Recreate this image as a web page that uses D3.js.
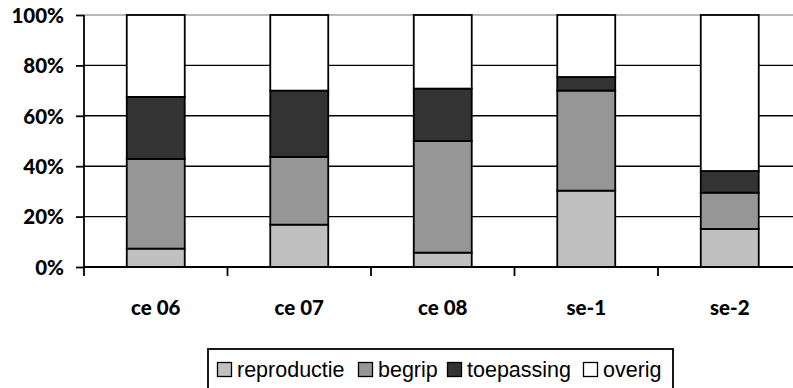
<!DOCTYPE html>
<html>
<head>
<meta charset="utf-8">
<script src="https://cdn.jsdelivr.net/npm/d3@7"></script>
<style>
html,body{margin:0;padding:0;background:#fff;overflow:hidden;}
svg{display:block;}
</style>
</head>
<body>
<svg id="chart" width="793" height="388"></svg>
<script>
const categories = ["ce 06", "ce 07", "ce 08", "se-1", "se-2"];
const seriesNames = ["reproductie", "begrip", "toepassing", "overig"];
const reproductie = [7.3, 16.8, 5.7, 30.3, 15.1];
const begrip = [35.6, 26.9, 44.3, 39.7, 14.4];
const toepassing = [24.6, 26.3, 20.8, 5.4, 8.6];
const overig = [32.5, 30.0, 29.2, 24.6, 61.9];
const yTicks = [0, 20, 40, 60, 80, 100];
const colors = ["#c0c0c0", "#969696", "#333333", "#ffffff"];

const svg = d3.select("#chart");
const x = d3.scaleBand().domain(categories).range([84, 801.5]).padding(0);
const y = d3.scaleLinear().domain([0, 100]).range([267, 15]);
const barW = x.bandwidth() * 0.404;

// gridlines
svg.append("g").selectAll("line").data(yTicks.filter(t => t > 0)).join("line")
  .attr("x1", 84).attr("x2", 793)
  .attr("y1", d => y(d)).attr("y2", d => y(d))
  .attr("stroke", d => d === 100 ? "#a0a0a0" : "#000")
  .attr("stroke-width", d => d === 100 ? 1.6 : 1.4);

// stacked bars
const rows = categories.map((c, i) => ({cat: c, reproductie: reproductie[i], begrip: begrip[i], toepassing: toepassing[i], overig: overig[i]}));
const stack = d3.stack().keys(seriesNames)(rows);
svg.append("g").selectAll("g").data(stack).join("g")
  .attr("fill", (d, i) => colors[i])
  .selectAll("rect").data(d => d).join("rect")
  .attr("x", d => x(d.data.cat) + (x.bandwidth() - barW) / 2)
  .attr("width", barW)
  .attr("y", d => y(Math.min(d[1], 100)))
  .attr("height", d => y(d[0]) - y(Math.min(d[1], 100)))
  .attr("stroke", "#000").attr("stroke-width", 1.8);

const labelFont = "Lato, 'Open Sans', sans-serif";

// y axis
const yAxis = d3.axisLeft(y).tickValues(yTicks).tickFormat(d => d + "%").tickSize(8).tickPadding(12);
const gy = svg.append("g").attr("transform", "translate(84,0)").call(yAxis);
gy.select(".domain").remove();
gy.selectAll(".tick line").attr("stroke", "#000").attr("stroke-width", 1.8);
gy.selectAll(".tick text").attr("font-family", labelFont)
  .attr("font-weight", "900").attr("font-size", "20.5px").attr("fill", "#000").attr("dy", "0.36em");
svg.append("line").attr("x1", 84).attr("x2", 84).attr("y1", 15).attr("y2", 276)
  .attr("stroke", "#000").attr("stroke-width", 1.8);

// x axis
const xAxis = d3.axisBottom(x).tickSize(0).tickPadding(33);
const gx = svg.append("g").attr("transform", "translate(0,267)").call(xAxis);
gx.select(".domain").remove();
gx.selectAll(".tick text").attr("font-family", labelFont)
  .attr("font-weight", "900").attr("font-size", "20.5px").attr("fill", "#000");
svg.append("line").attr("x1", 84).attr("x2", 793).attr("y1", 267).attr("y2", 267)
  .attr("stroke", "#000").attr("stroke-width", 2);
svg.append("g").selectAll("line").data(categories.slice(1)).join("line")
  .attr("x1", d => x(d)).attr("x2", d => x(d)).attr("y1", 267).attr("y2", 276)
  .attr("stroke", "#000").attr("stroke-width", 1.8);

// legend
const lg = svg.append("g");
lg.append("rect").attr("x", 208).attr("y", 349).attr("width", 465).attr("height", 60)
  .attr("fill", "#fff").attr("stroke", "#000").attr("stroke-width", 1.8);
const legendX = [217, 358, 447, 583];
const items = lg.selectAll("g.item").data(seriesNames).join("g").attr("class", "item")
  .attr("transform", (d, i) => `translate(${legendX[i]},0)`);
items.append("rect").attr("x", 0.5).attr("y", 362.5).attr("width", 14).attr("height", 14)
  .attr("fill", (d, i) => colors[i]).attr("stroke", "#000").attr("stroke-width", 1.3);
items.append("text").attr("x", 20).attr("y", 377).text(d => d)
  .attr("font-family", "'Liberation Sans', Arial, sans-serif").attr("font-size", "21.5px").attr("fill", "#000");
</script>
</body>
</html>
